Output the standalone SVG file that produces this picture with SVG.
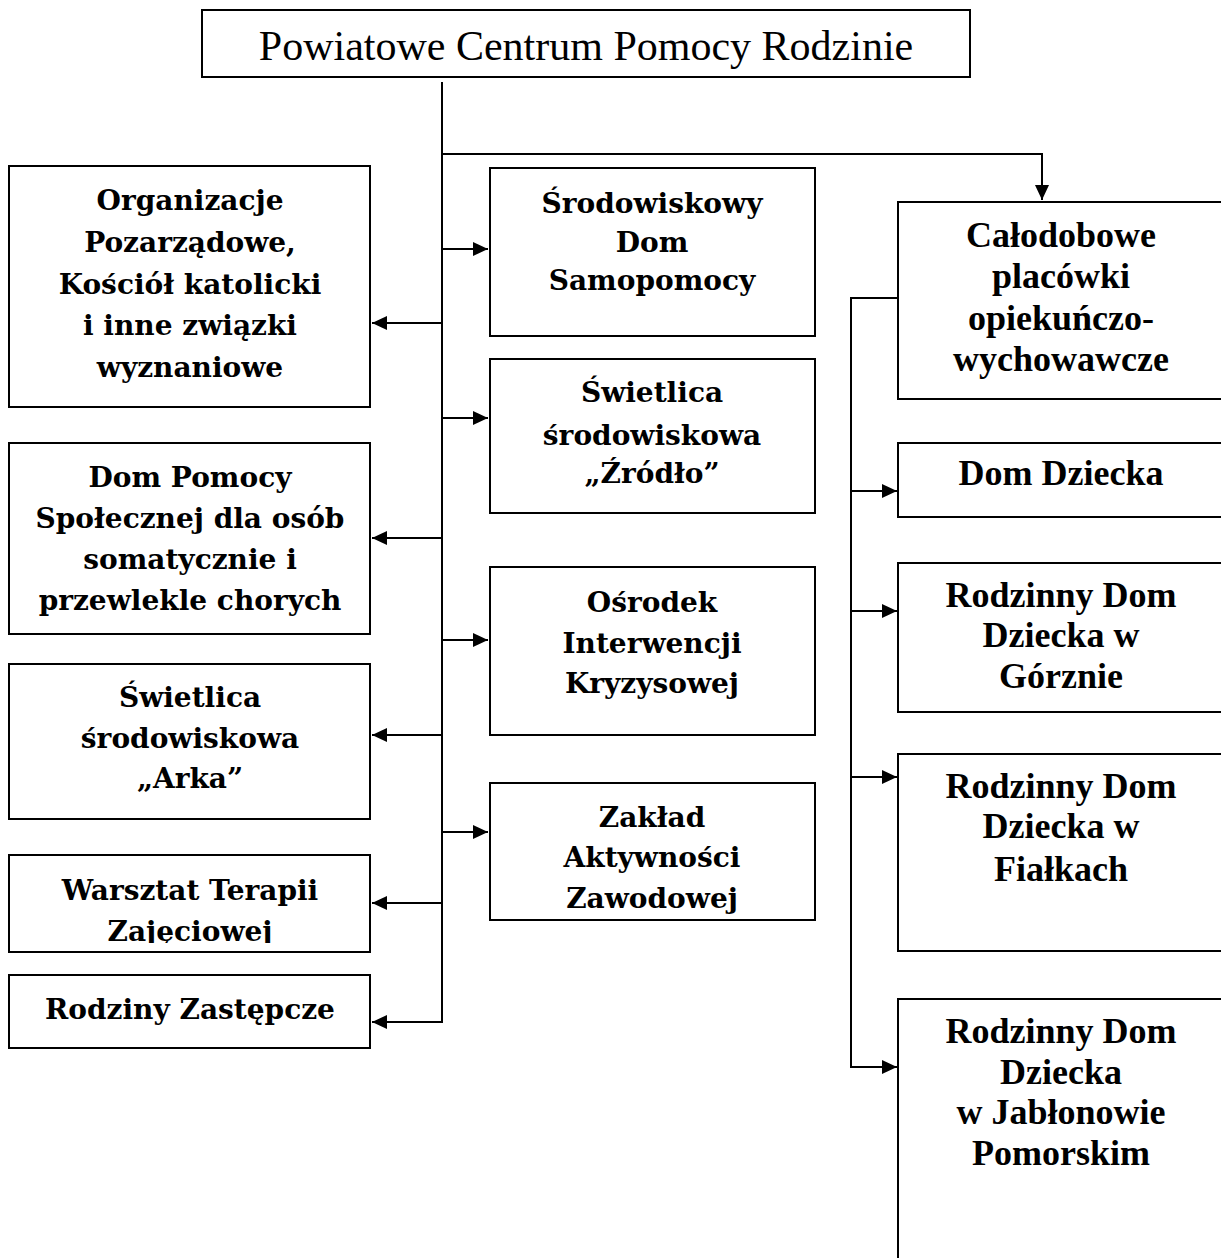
<svg xmlns="http://www.w3.org/2000/svg" width="1221" height="1258" viewBox="0 0 1221 1258">
<style>
.box{fill:#fff;stroke:#000;stroke-width:2}
.c{fill:none;stroke:#000;stroke-width:2}
.t{font-family:"DejaVu Serif",serif;font-weight:bold;font-size:28px;text-anchor:middle;fill:#000}
.r{font-family:"Liberation Serif","Times New Roman",serif;font-weight:bold;font-size:36px;text-anchor:middle;fill:#000}
.h{font-family:"Liberation Serif","Times New Roman",serif;font-size:42px;text-anchor:middle;fill:#000}
</style>
<defs>
<marker id="ah" markerUnits="userSpaceOnUse" markerWidth="16" markerHeight="14" refX="15" refY="7" orient="auto">
<path d="M0,0 L15,7 L0,14 z" fill="#000"/>
</marker>
<clipPath id="clipW"><rect x="9" y="855" width="361" height="88"/></clipPath>
<clipPath id="clipZ"><rect x="490" y="783" width="325" height="134"/></clipPath>
</defs>
<rect width="1221" height="1258" fill="#fff"/>
<g id="connectors">
<path class="c" d="M442,82 V1022 H372" marker-end="url(#ah)"/>
<path class="c" d="M442,154 H1042 V200" marker-end="url(#ah)"/>
<path class="c" d="M442,323 H372" marker-end="url(#ah)"/>
<path class="c" d="M442,538 H372" marker-end="url(#ah)"/>
<path class="c" d="M442,735 H372" marker-end="url(#ah)"/>
<path class="c" d="M442,903 H372" marker-end="url(#ah)"/>
<path class="c" d="M442,249 H488" marker-end="url(#ah)"/>
<path class="c" d="M442,418 H488" marker-end="url(#ah)"/>
<path class="c" d="M442,640 H488" marker-end="url(#ah)"/>
<path class="c" d="M442,832 H488" marker-end="url(#ah)"/>
<path class="c" d="M898,298 H851 V1067 H897" marker-end="url(#ah)"/>
<path class="c" d="M851,491 H897" marker-end="url(#ah)"/>
<path class="c" d="M851,611 H897" marker-end="url(#ah)"/>
<path class="c" d="M851,777 H897" marker-end="url(#ah)"/>
</g>
<g id="pcpr">
<rect class="box" x="202" y="10" width="768" height="67"/>
<text class="h" x="586" y="60">Powiatowe Centrum Pomocy Rodzinie</text>
</g>
<g id="organizacje">
<rect class="box" x="9" y="166" width="361" height="241"/>
<text class="t" x="190" y="210">Organizacje</text>
<text class="t" x="190" y="252">Pozarządowe,</text>
<text class="t" x="190" y="294">Kościół katolicki</text>
<text class="t" x="190" y="335">i inne związki</text>
<text class="t" x="190" y="377">wyznaniowe</text>
</g>
<g id="dps">
<rect class="box" x="9" y="443" width="361" height="191"/>
<text class="t" x="190" y="487">Dom Pomocy</text>
<text class="t" x="190" y="528">Społecznej dla osób</text>
<text class="t" x="190" y="569">somatycznie i</text>
<text class="t" x="190" y="610">przewlekle chorych</text>
</g>
<g id="arka">
<rect class="box" x="9" y="664" width="361" height="155"/>
<text class="t" x="190" y="707">Świetlica</text>
<text class="t" x="190" y="748">środowiskowa</text>
<text class="t" x="190" y="788">„Arka”</text>
</g>
<g id="wtz">
<rect class="box" x="9" y="855" width="361" height="97"/>
<g clip-path="url(#clipW)">
<text class="t" x="190" y="900">Warsztat Terapii</text>
<text class="t" x="190" y="941">Zajęciowej</text>
</g>
</g>
<g id="rodziny">
<rect class="box" x="9" y="975" width="361" height="73"/>
<text class="t" x="190" y="1019">Rodziny Zastępcze</text>
</g>
<g id="sds">
<rect class="box" x="490" y="168" width="325" height="168"/>
<text class="t" x="652" y="213">Środowiskowy</text>
<text class="t" x="652" y="252">Dom</text>
<text class="t" x="652" y="290">Samopomocy</text>
</g>
<g id="zrodlo">
<rect class="box" x="490" y="359" width="325" height="154"/>
<text class="t" x="652" y="402">Świetlica</text>
<text class="t" x="652" y="445">środowiskowa</text>
<text class="t" x="652" y="483">„Źródło”</text>
</g>
<g id="oik">
<rect class="box" x="490" y="567" width="325" height="168"/>
<text class="t" x="652" y="612">Ośrodek</text>
<text class="t" x="652" y="653">Interwencji</text>
<text class="t" x="652" y="693">Kryzysowej</text>
</g>
<g id="zaz">
<rect class="box" x="490" y="783" width="325" height="137"/>
<g clip-path="url(#clipZ)">
<text class="t" x="652" y="827">Zakład</text>
<text class="t" x="652" y="867">Aktywności</text>
<text class="t" x="652" y="908">Zawodowej</text>
</g>
</g>
<g id="calodobowe">
<rect class="box" x="898" y="202" width="340" height="197"/>
<text class="r" x="1061" y="247">Całodobowe</text>
<text class="r" x="1061" y="288">placówki</text>
<text class="r" x="1061" y="330">opiekuńczo-</text>
<text class="r" x="1061" y="371">wychowawcze</text>
</g>
<g id="domdziecka">
<rect class="box" x="898" y="443" width="340" height="74"/>
<text class="r" x="1061" y="485">Dom Dziecka</text>
</g>
<g id="gorzno">
<rect class="box" x="898" y="563" width="340" height="149"/>
<text class="r" x="1061" y="607">Rodzinny Dom</text>
<text class="r" x="1061" y="647">Dziecka w</text>
<text class="r" x="1061" y="688">Górznie</text>
</g>
<g id="fialki">
<rect class="box" x="898" y="754" width="340" height="197"/>
<text class="r" x="1061" y="798">Rodzinny Dom</text>
<text class="r" x="1061" y="838">Dziecka w</text>
<text class="r" x="1061" y="881">Fiałkach</text>
</g>
<g id="jablonowo">
<rect class="box" x="898" y="999" width="340" height="280"/>
<text class="r" x="1061" y="1043">Rodzinny Dom</text>
<text class="r" x="1061" y="1084">Dziecka</text>
<text class="r" x="1061" y="1124">w Jabłonowie</text>
<text class="r" x="1061" y="1165">Pomorskim</text>
</g>
</svg>
